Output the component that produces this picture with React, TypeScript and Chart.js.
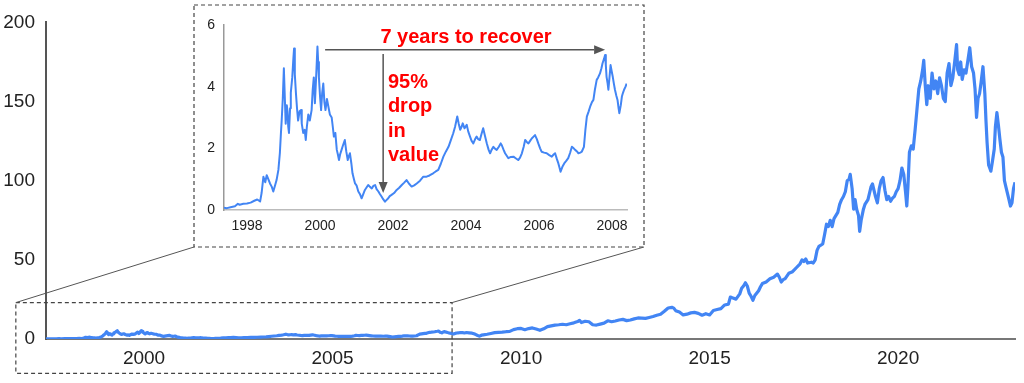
import React, { useEffect, useRef } from "react";
import { Chart, registerables } from "chart.js";

Chart.register(...registerables);

// Split-adjusted share price, decimal year -> USD (dot-com era, shown in the inset)
const dotcomEra: [number, number][] = [
  [1997.37, 0.07], [1997.45, 0.06], [1997.55, 0.09], [1997.67, 0.12], [1997.75, 0.2], [1997.8, 0.17],
  [1997.9, 0.2], [1998.0, 0.21], [1998.1, 0.24], [1998.2, 0.3], [1998.28, 0.34], [1998.36, 0.28],
  [1998.4, 0.55], [1998.45, 1.08], [1998.5, 0.9], [1998.54, 1.13], [1998.6, 0.95], [1998.63, 0.86],
  [1998.68, 0.75], [1998.72, 0.6], [1998.77, 0.8], [1998.81, 0.97], [1998.86, 1.3], [1998.9, 1.84],
  [1998.93, 2.5], [1998.95, 2.9], [1998.98, 3.6], [1999.01, 4.6], [1999.04, 3.5], [1999.06, 2.8],
  [1999.09, 3.4], [1999.11, 3.2], [1999.13, 2.7], [1999.15, 2.5], [1999.18, 3.3], [1999.2, 3.8],
  [1999.24, 4.3], [1999.27, 4.9], [1999.29, 5.24], [1999.31, 4.4], [1999.34, 3.8], [1999.37, 3.3],
  [1999.4, 2.9], [1999.44, 3.2], [1999.48, 3.24], [1999.5, 2.8], [1999.54, 2.5], [1999.58, 2.6],
  [1999.61, 2.27], [1999.64, 2.7], [1999.68, 3.1], [1999.72, 2.9], [1999.77, 3.24], [1999.8, 3.9],
  [1999.83, 4.3], [1999.86, 3.46], [1999.89, 4.2], [1999.93, 5.3], [1999.95, 4.8], [1999.97, 4.3],
  [2000.0, 3.7], [2000.03, 3.24], [2000.06, 3.8], [2000.09, 4.1], [2000.12, 3.5], [2000.15, 3.24],
  [2000.19, 3.6], [2000.23, 3.35], [2000.27, 3.1], [2000.32, 3.0], [2000.35, 2.7], [2000.38, 2.38],
  [2000.42, 2.5], [2000.46, 1.95], [2000.49, 1.8], [2000.52, 1.62], [2000.55, 1.8], [2000.59, 1.95],
  [2000.63, 2.1], [2000.68, 2.27], [2000.72, 1.9], [2000.76, 1.62], [2000.79, 1.75], [2000.82, 1.84],
  [2000.86, 1.5], [2000.89, 1.19], [2000.93, 1.0], [2000.96, 0.86], [2001.0, 0.8], [2001.05, 0.6],
  [2001.1, 0.5], [2001.14, 0.38], [2001.18, 0.5], [2001.23, 0.65], [2001.27, 0.72], [2001.32, 0.81],
  [2001.37, 0.75], [2001.42, 0.7], [2001.46, 0.78], [2001.51, 0.81], [2001.55, 0.68], [2001.6, 0.6],
  [2001.64, 0.52], [2001.69, 0.43], [2001.73, 0.35], [2001.78, 0.27], [2001.82, 0.32], [2001.87, 0.38],
  [2001.91, 0.45], [2001.96, 0.49], [2002.03, 0.55], [2002.1, 0.65], [2002.17, 0.72], [2002.24, 0.81],
  [2002.3, 0.88], [2002.37, 0.97], [2002.44, 0.85], [2002.51, 0.76], [2002.58, 0.8], [2002.65, 0.86],
  [2002.74, 0.95], [2002.83, 1.08], [2002.92, 1.08], [2003.0, 1.12], [2003.1, 1.19], [2003.17, 1.25],
  [2003.24, 1.3], [2003.31, 1.5], [2003.38, 1.73], [2003.45, 1.9], [2003.52, 2.05], [2003.58, 2.25],
  [2003.65, 2.49], [2003.7, 2.7], [2003.76, 3.03], [2003.8, 2.8], [2003.84, 2.6], [2003.88, 2.7],
  [2003.91, 2.81], [2003.96, 2.65], [2004.02, 2.76], [2004.06, 2.55], [2004.11, 2.38], [2004.15, 2.25],
  [2004.2, 2.16], [2004.25, 2.3], [2004.29, 2.38], [2004.33, 2.3], [2004.38, 2.27], [2004.42, 2.45],
  [2004.47, 2.65], [2004.52, 2.4], [2004.57, 2.16], [2004.62, 1.95], [2004.66, 1.84], [2004.7, 1.95],
  [2004.75, 2.05], [2004.8, 1.98], [2004.84, 1.95], [2004.9, 2.05], [2004.95, 2.16], [2004.98, 2.1],
  [2005.03, 1.95], [2005.07, 1.84], [2005.12, 1.75], [2005.16, 1.68], [2005.23, 1.72], [2005.3, 1.73],
  [2005.36, 1.68], [2005.43, 1.62], [2005.48, 1.7], [2005.53, 1.84], [2005.58, 2.05], [2005.62, 2.27],
  [2005.67, 2.2], [2005.71, 2.16], [2005.76, 2.25], [2005.8, 2.32], [2005.85, 2.38], [2005.89, 2.43],
  [2005.94, 2.3], [2005.98, 2.16], [2006.03, 2.0], [2006.07, 1.89], [2006.14, 1.86], [2006.21, 1.84],
  [2006.28, 1.78], [2006.35, 1.73], [2006.4, 1.8], [2006.44, 1.84], [2006.49, 1.65], [2006.53, 1.51],
  [2006.56, 1.38], [2006.59, 1.24], [2006.64, 1.4], [2006.69, 1.51], [2006.75, 1.6], [2006.8, 1.68],
  [2006.85, 1.85], [2006.9, 2.05], [2006.95, 2.0], [2006.99, 1.95], [2007.04, 1.9], [2007.08, 1.84],
  [2007.13, 1.86], [2007.17, 1.89], [2007.23, 2.05], [2007.27, 2.6], [2007.31, 3.03], [2007.36, 3.2],
  [2007.4, 3.35], [2007.45, 3.5], [2007.49, 3.57], [2007.53, 3.9], [2007.58, 4.22], [2007.62, 4.3],
  [2007.67, 4.43], [2007.71, 4.6], [2007.74, 4.76], [2007.78, 4.9], [2007.81, 5.03], [2007.83, 4.7],
  [2007.85, 4.32], [2007.88, 4.1], [2007.9, 3.9], [2007.93, 4.3], [2007.96, 4.7], [2007.99, 4.5],
  [2008.02, 4.32], [2008.05, 4.1], [2008.08, 3.9], [2008.12, 3.7], [2008.15, 3.57], [2008.18, 3.3],
  [2008.2, 3.14], [2008.24, 3.4], [2008.27, 3.68], [2008.3, 3.8], [2008.33, 3.9], [2008.37, 4.0],
  [2008.4, 4.1],
];

// Split-adjusted share price after the inset window
const recoveryEra: [number, number][] = [
  [2008.45, 4.0], [2008.5, 3.8], [2008.55, 4.1], [2008.62, 3.9], [2008.7, 3.7], [2008.75, 3.3],
  [2008.8, 2.8], [2008.85, 2.2], [2008.9, 1.8], [2008.95, 2.4], [2009.0, 2.6], [2009.1, 3.0],
  [2009.2, 3.5], [2009.3, 4.0], [2009.4, 4.2], [2009.5, 4.3], [2009.6, 4.6], [2009.7, 4.8],
  [2009.8, 5.9], [2009.9, 6.5], [2010.0, 6.7], [2010.1, 5.9], [2010.2, 6.6], [2010.3, 7.0],
  [2010.4, 6.3], [2010.5, 5.5], [2010.6, 6.4], [2010.7, 7.8], [2010.8, 8.3], [2010.9, 8.8],
  [2011.0, 9.0], [2011.1, 9.3], [2011.2, 9.0], [2011.3, 9.6], [2011.4, 10.2], [2011.5, 11.0],
  [2011.55, 11.8], [2011.6, 10.4], [2011.7, 11.2], [2011.8, 10.9], [2011.85, 10.0], [2011.9, 9.0],
  [2012.0, 8.8], [2012.1, 9.4], [2012.2, 10.0], [2012.3, 11.5], [2012.4, 10.9], [2012.5, 11.4],
  [2012.6, 12.0], [2012.7, 12.4], [2012.8, 11.6], [2012.9, 12.0], [2013.0, 12.7], [2013.1, 13.3],
  [2013.2, 13.2], [2013.3, 13.0], [2013.4, 13.6], [2013.5, 14.2], [2013.6, 15.0], [2013.7, 15.6],
  [2013.8, 17.5], [2013.9, 19.6], [2014.0, 20.0], [2014.05, 19.5], [2014.1, 17.9], [2014.2, 17.0],
  [2014.3, 15.2], [2014.4, 15.7], [2014.5, 16.5], [2014.6, 16.8], [2014.7, 16.2], [2014.8, 15.0],
  [2014.9, 16.0], [2015.0, 15.2], [2015.1, 18.0], [2015.2, 18.6], [2015.3, 19.2], [2015.4, 21.5],
  [2015.5, 22.0], [2015.55, 26.5], [2015.6, 26.0], [2015.7, 25.2], [2015.8, 28.5], [2015.85, 32.0],
  [2015.9, 33.5], [2015.95, 35.5], [2016.0, 33.5], [2016.05, 29.0], [2016.1, 27.0], [2016.15, 24.5],
  [2016.2, 27.5], [2016.3, 30.5], [2016.35, 33.0], [2016.4, 35.0], [2016.5, 36.0], [2016.6, 38.0],
  [2016.7, 39.0], [2016.8, 41.0], [2016.85, 39.0], [2016.9, 36.0], [2016.95, 37.5], [2017.0, 38.0],
  [2017.1, 41.5], [2017.2, 42.5], [2017.3, 45.0], [2017.4, 47.5], [2017.45, 50.0], [2017.5, 49.0],
  [2017.55, 50.5], [2017.6, 48.0], [2017.7, 48.5], [2017.75, 48.0], [2017.8, 50.0], [2017.85, 56.0],
  [2017.9, 58.5], [2018.0, 60.0], [2018.05, 66.0], [2018.1, 72.5], [2018.15, 71.0], [2018.2, 75.0],
  [2018.25, 71.0], [2018.3, 76.0], [2018.4, 80.0], [2018.45, 85.0], [2018.5, 88.0], [2018.55, 90.0],
  [2018.6, 93.0], [2018.65, 100.0], [2018.7, 101.0], [2018.73, 104.0], [2018.78, 95.0], [2018.82, 82.0],
  [2018.86, 88.0], [2018.9, 82.0], [2018.95, 78.0], [2018.98, 68.0], [2019.02, 75.0], [2019.08, 82.0],
  [2019.12, 85.0], [2019.2, 88.0], [2019.28, 96.0], [2019.32, 98.0], [2019.4, 90.0], [2019.45, 86.0],
  [2019.5, 95.0], [2019.55, 100.0], [2019.6, 102.0], [2019.65, 94.0], [2019.7, 88.0], [2019.75, 90.0],
  [2019.8, 87.0], [2019.85, 89.0], [2019.9, 90.0], [2019.95, 93.0], [2020.0, 95.0], [2020.05, 100.0],
  [2020.1, 108.0], [2020.15, 104.0], [2020.2, 92.0], [2020.23, 84.0], [2020.26, 96.0], [2020.3, 118.0],
  [2020.35, 122.0], [2020.4, 120.0], [2020.45, 132.0], [2020.5, 145.0], [2020.55, 158.0], [2020.6, 163.0],
  [2020.65, 170.0], [2020.68, 176.0], [2020.72, 160.0], [2020.76, 148.0], [2020.8, 160.0], [2020.85, 152.0],
  [2020.9, 168.0], [2020.95, 158.0], [2021.0, 163.0], [2021.05, 155.0], [2021.1, 165.0], [2021.15, 160.0],
  [2021.2, 152.0], [2021.25, 150.0], [2021.3, 168.0], [2021.35, 174.0], [2021.4, 160.0], [2021.45, 165.0],
  [2021.5, 175.0], [2021.55, 186.0], [2021.58, 170.0], [2021.62, 167.0], [2021.66, 175.0], [2021.7, 164.0],
  [2021.75, 170.0], [2021.8, 168.0], [2021.85, 176.0], [2021.9, 184.0], [2021.95, 172.0], [2022.0, 168.0],
  [2022.04, 158.0], [2022.08, 140.0], [2022.12, 152.0], [2022.16, 155.0], [2022.2, 162.0], [2022.25, 172.0],
  [2022.3, 155.0], [2022.33, 138.0], [2022.36, 124.0], [2022.4, 110.0], [2022.43, 108.0], [2022.46, 106.0],
  [2022.5, 112.0], [2022.55, 120.0], [2022.58, 134.0], [2022.62, 143.0], [2022.66, 135.0], [2022.7, 126.0],
  [2022.74, 118.0], [2022.78, 115.0], [2022.82, 100.0], [2022.86, 96.0], [2022.9, 92.0], [2022.94, 88.0],
  [2022.98, 84.0], [2023.02, 86.0], [2023.06, 95.0], [2023.1, 99.0],
];

const mainXTicks = [2000, 2005, 2010, 2015, 2020];
const mainYTicks = [0, 50, 100, 150, 200];
const insetXTicks = [1998, 2000, 2002, 2004, 2006, 2008];
const insetYTicks = [0, 2, 4, 6];

const recoverLabel = "7 years to recover";
const dropLabel = ["95%", "drop", "in", "value"];

const BLUE = "#4285f4";
const RED = "#ff0000";
const FONT = "'Liberation Sans', Arial, Helvetica, sans-serif";

function drawArrow(ctx: CanvasRenderingContext2D, x1: number, y1: number, x2: number, y2: number) {
  const head = 11;
  const half = 4.5;
  const a = Math.atan2(y2 - y1, x2 - x1);
  const c = Math.cos(a);
  const s = Math.sin(a);
  ctx.beginPath();
  ctx.moveTo(x1, y1);
  ctx.lineTo(x2 - head * c, y2 - head * s);
  ctx.stroke();
  ctx.beginPath();
  ctx.moveTo(x2, y2);
  ctx.lineTo(x2 - head * c + half * s, y2 - head * s - half * c);
  ctx.lineTo(x2 - head * c - half * s, y2 - head * s + half * c);
  ctx.closePath();
  ctx.fill();
}

const INSET = { left: 194, top: 5, right: 644, bottom: 247 };

export default function App() {
  const mainRef = useRef<HTMLCanvasElement>(null);
  const insetRef = useRef<HTMLCanvasElement>(null);

  useEffect(() => {
    if (!mainRef.current || !insetRef.current) return;
    const all = [...dotcomEra, ...recoveryEra].map(([x, y]) => ({ x, y }));
    const inset = dotcomEra.map(([x, y]) => ({ x, y }));

    const overlay = {
      id: "overlay",
      afterDraw(chart: any) {
        const { ctx, scales } = chart;
        const xs = scales.x;
        const ys = scales.y;
        const l = xs.getPixelForValue(1996.6);
        const r = xs.getPixelForValue(2008.17);
        const t = ys.getPixelForValue(23);
        const b = ys.getPixelForValue(-21.7);
        ctx.save();
        ctx.strokeStyle = "#444";
        ctx.lineWidth = 1.2;
        ctx.setLineDash([4, 3]);
        ctx.strokeRect(l, t, r - l, b - t);
        ctx.strokeRect(INSET.left, INSET.top, INSET.right - INSET.left, INSET.bottom - INSET.top);
        ctx.setLineDash([]);
        ctx.strokeStyle = "#555";
        ctx.lineWidth = 1;
        ctx.beginPath();
        ctx.moveTo(l, t);
        ctx.lineTo(INSET.left, INSET.bottom);
        ctx.moveTo(r, t);
        ctx.lineTo(INSET.right, INSET.bottom);
        ctx.stroke();
        ctx.restore();
      },
    };

    const mainChart = new Chart(mainRef.current, {
      type: "line",
      data: {
        datasets: [
          { data: all, borderColor: BLUE, borderWidth: 3.2, pointRadius: 0, tension: 0, fill: false, borderJoinStyle: "round" },
        ],
      },
      options: {
        animation: false,
        responsive: false,
        maintainAspectRatio: false,
        layout: { padding: { top: 17, right: 9, left: 0, bottom: 0 } },
        plugins: { legend: { display: false }, tooltip: { enabled: false } },
        scales: {
          x: {
            type: "linear",
            min: 1997.4,
            max: 2023.1,
            afterBuildTicks: (s: any) => {
              s.ticks = mainXTicks.map((v) => ({ value: v }));
            },
            ticks: { callback: (v: any) => String(v), font: { family: FONT, size: 19 }, color: "#222", padding: 8, maxRotation: 0 },
            grid: { display: false, drawTicks: false },
            border: { color: "#777", width: 2 },
            afterFit: (s: any) => {
              s.height = 44;
            },
          },
          y: {
            type: "linear",
            min: 0,
            max: 200,
            afterBuildTicks: (s: any) => {
              s.ticks = mainYTicks.map((v) => ({ value: v }));
            },
            ticks: { callback: (v: any) => String(v), font: { family: FONT, size: 19 }, color: "#222", padding: 11 },
            grid: { display: false, drawTicks: false },
            border: { color: "#555", width: 2 },
            afterFit: (s: any) => {
              s.width = 46;
            },
          },
        },
      },
      plugins: [overlay],
    });

    const notes = {
      id: "notes",
      afterDatasetsDraw(chart: any) {
        const { ctx, scales } = chart;
        const xs = scales.x;
        const ys = scales.y;
        ctx.save();
        ctx.strokeStyle = "#555";
        ctx.fillStyle = "#555";
        ctx.lineWidth = 1.5;
        drawArrow(ctx, xs.getPixelForValue(2000.14), ys.getPixelForValue(5.2), xs.getPixelForValue(2007.81), ys.getPixelForValue(5.2));
        drawArrow(ctx, xs.getPixelForValue(2001.73), ys.getPixelForValue(5.06), xs.getPixelForValue(2001.73), ys.getPixelForValue(0.55));
        ctx.fillStyle = RED;
        ctx.font = `bold 20px ${FONT}`;
        ctx.textBaseline = "middle";
        ctx.textAlign = "center";
        ctx.fillText(recoverLabel, xs.getPixelForValue(2004.0), ys.getPixelForValue(5.58));
        ctx.textAlign = "left";
        const x0 = xs.getPixelForValue(2001.86);
        const y0 = ys.getPixelForValue(4.15);
        dropLabel.forEach((line, i) => ctx.fillText(line, x0, y0 + i * 24.6));
        ctx.restore();
      },
    };

    const insetChart = new Chart(insetRef.current, {
      type: "line",
      data: {
        datasets: [
          { data: inset, borderColor: BLUE, borderWidth: 2, pointRadius: 0, tension: 0, fill: false, borderJoinStyle: "round" },
        ],
      },
      options: {
        animation: false,
        responsive: false,
        maintainAspectRatio: false,
        layout: { padding: { top: 19, right: 16, left: 0, bottom: 0 } },
        plugins: { legend: { display: false }, tooltip: { enabled: false } },
        scales: {
          x: {
            type: "linear",
            min: 1997.37,
            max: 2008.41,
            afterBuildTicks: (s: any) => {
              s.ticks = insetXTicks.map((v) => ({ value: v }));
            },
            ticks: { callback: (v: any) => String(v), font: { family: FONT, size: 14 }, color: "#222", padding: 8, maxRotation: 0 },
            grid: { display: false, drawTicks: false },
            border: { color: "#bbb", width: 1.5 },
            afterFit: (s: any) => {
              s.height = 36;
            },
          },
          y: {
            type: "linear",
            min: 0,
            max: 6,
            afterBuildTicks: (s: any) => {
              s.ticks = insetYTicks.map((v) => ({ value: v }));
            },
            ticks: { callback: (v: any) => String(v), font: { family: FONT, size: 14 }, color: "#222", padding: 9 },
            grid: { display: false, drawTicks: false },
            border: { color: "#999", width: 1.5 },
            afterFit: (s: any) => {
              s.width = 29;
            },
          },
        },
      },
      plugins: [notes],
    });

    return () => {
      mainChart.destroy();
      insetChart.destroy();
    };
  }, []);

  return (
    <div style={{ position: "absolute", left: 0, top: 0, width: 1024, height: 383, background: "#fff" }}>
      <canvas ref={mainRef} width={1024} height={383} style={{ position: "absolute", left: 0, top: 0, display: "block" }} />
      <canvas
        ref={insetRef}
        width={448}
        height={240}
        style={{ position: "absolute", left: 195, top: 6, display: "block" }}
      />
    </div>
  );
}
